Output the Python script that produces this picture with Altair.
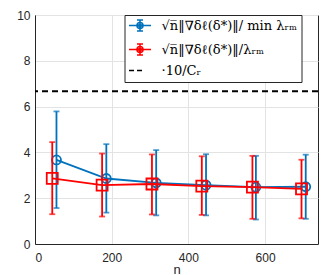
import altair as alt
import pandas as pd

# ---- data ----
blue_x = [56, 186, 316, 446, 576, 706]
blue_mean = [3.67, 2.86, 2.67, 2.57, 2.48, 2.50]
blue_lo = [1.57, 1.37, 1.25, 1.25, 1.07, 1.10]
blue_hi = [5.79, 4.36, 4.10, 3.92, 3.85, 3.90]

red_x = [45, 175, 305, 435, 567, 695]
red_mean = [2.87, 2.57, 2.62, 2.53, 2.48, 2.41]
red_lo = [1.30, 1.20, 1.29, 1.27, 1.10, 1.12]
red_hi = [4.45, 3.95, 3.91, 3.83, 3.85, 3.68]

ref_level = [20 / 3]

series_names = ["√n̅‖∇δℓ(δ*)‖/ min λᵣₘ", "√n̅‖∇δℓ(δ*)‖/λᵣₘ", "·10/Cᵣ"]

BLUE = "#0072BD"
RED = "#FF0000"
BLACK = "#000000"
AX = "#262626"

blue_df = pd.DataFrame({"x": blue_x, "m": blue_mean, "lo": blue_lo, "hi": blue_hi})
red_df = pd.DataFrame({"x": red_x, "m": red_mean, "lo": red_lo, "hi": red_hi})
ref_df = pd.DataFrame({"y": ref_level})
leg_df = pd.DataFrame({"series": series_names})

xscale = alt.Scale(domain=[0, 738], nice=False, zero=False)
yscale = alt.Scale(domain=[0, 10], nice=False)

xax = alt.Axis(values=[0, 200, 400, 600], title="n", grid=True, ticks=False,
               labelPadding=8, titlePadding=0)
yax = alt.Axis(values=[0, 2, 4, 6, 8, 10], title=None, grid=True, ticks=False,
               labelPadding=5)


def series_layers(df, color, shape, size):
    base = alt.Chart(df)
    X = alt.X("x:Q", scale=xscale, axis=xax)
    line = base.mark_line(color=color, strokeWidth=1.8).encode(
        x=X, y=alt.Y("m:Q", scale=yscale, axis=yax))
    bars = base.mark_rule(color=color, strokeWidth=1.8).encode(
        x=X, y=alt.Y("lo:Q", scale=yscale, axis=yax), y2="hi:Q")
    cap_lo = base.mark_tick(color=color, thickness=1.8, size=6, orient="horizontal").encode(
        x=X, y=alt.Y("lo:Q", scale=yscale, axis=yax))
    cap_hi = base.mark_tick(color=color, thickness=1.8, size=6, orient="horizontal").encode(
        x=X, y=alt.Y("hi:Q", scale=yscale, axis=yax))
    pts = base.mark_point(shape=shape, size=size, filled=False, color=color,
                          strokeWidth=1.8, opacity=1).encode(
        x=X, y=alt.Y("m:Q", scale=yscale, axis=yax))
    return [line, bars, cap_lo, cap_hi, pts]


ref = alt.Chart(ref_df).mark_rule(color=BLACK, strokeWidth=2, strokeDash=[6, 4]).encode(
    y=alt.Y("y:Q", scale=yscale, axis=yax))

# legend symbols (unit = sqrt(size)/2 px)
dot = "M0.6,0A0.6,0.6 0 1,1 -0.6,0A0.6,0.6 0 1,1 0.6,0M0.25,0A0.25,0.25 0 1,1 -0.25,0A0.25,0.25 0 1,1 0.25,0"
errsym = "M-2.2,0H2.2M0,-1.1V1.1M-0.6,-1.1H0.6M-0.6,1.1H0.6" + dot
dashsym = "M-2.2,0H-1.2M-0.6,0H0.4"

legend = alt.Legend(
    title=None, orient="none", legendX=89.5, legendY=0,
    fillColor="white", strokeColor=AX, padding=4,
    symbolSize=100, symbolStrokeWidth=1.6, symbolOffset=5,
    labelOffset=15, labelFont="DejaVu Serif", labelFontSize=13, labelColor="black",
    labelLimit=400, rowPadding=5,
)

leg = alt.Chart(leg_df).mark_point(filled=False, strokeWidth=1.6, opacity=1).encode(
    x=alt.value(-100), y=alt.value(-100),
    color=alt.Color("series:N", scale=alt.Scale(domain=series_names, range=[BLUE, RED, BLACK]),
                    legend=legend),
    shape=alt.Shape("series:N", scale=alt.Scale(domain=series_names, range=[errsym, errsym, dashsym]),
                    legend=legend),
).transform_filter("false")

layers = series_layers(blue_df, BLUE, "circle", 81) + series_layers(red_df, RED, "square", 121) + [ref, leg]

chart = alt.layer(*layers).properties(
    width=283, height=229,
    autosize=alt.AutoSizeParams(type="none"),
    padding={"left": 27, "top": 7, "right": 6, "bottom": 31},
).configure_view(stroke=AX, strokeWidth=1).configure_axis(
    domainColor=AX, gridColor="#e3e3e3", labelFont="Liberation Sans", labelFontSize=12,
    labelColor=AX, titleFont="Liberation Sans", titleFontSize=13, titleFontWeight="normal",
    titleColor=AX,
)

chart.save("out.html", embed_options={"renderer": "svg", "actions": False})
